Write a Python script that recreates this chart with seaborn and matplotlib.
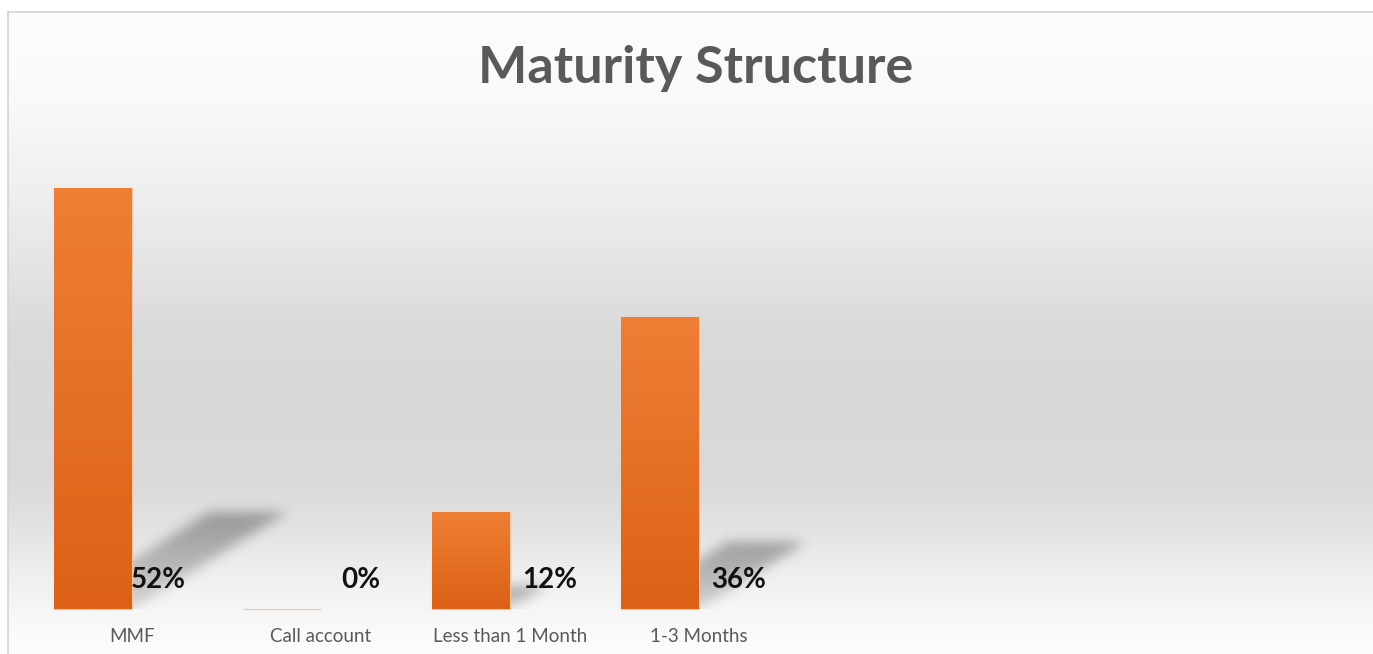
import numpy as np
import matplotlib
matplotlib.use("Agg")
import matplotlib.pyplot as plt
import seaborn as sns
from matplotlib.path import Path

# Chart data
categories = ["MMF", "Call account", "Less than 1 Month", "1-3 Months"]
shares = [52, 0, 12, 36]
value_labels = ["52%", "0%", "12%", "36%"]
title = "Maturity Structure"

sns.set_theme(style="white")
plt.rcParams["font.family"] = ["Lato", "DejaVu Sans"]

W, H = 1373, 654
fig = plt.figure(figsize=(W / 100, H / 100), dpi=100)
fig.patch.set_facecolor("white")

# ---- chart panel background: vertical grey gradient ----
panel_left, panel_top = 8, 12
bg = fig.add_axes([panel_left / W, 0, (W - panel_left) / W, (H - panel_top) / H])
stops_y = np.array([12, 100, 200, 280, 330, 400, 480, 520, 570, 620, 654])
stops_v = np.array([253, 249, 238, 226, 218, 216, 218, 225, 238, 248, 253]) / 255
rows = np.arange(panel_top, H)
prof = np.interp(rows, stops_y, stops_v)
grad = np.repeat(prof[:, None], 2, axis=1)
bg.imshow(np.dstack([grad, grad, grad]), aspect="auto", extent=[0, 1, 0, 1],
          interpolation="bilinear")
bg.set_xlim(0, 1)
bg.set_ylim(0, 1)
bg.set_xticks([])
bg.set_yticks([])
for side in ["right", "bottom"]:
    bg.spines[side].set_visible(False)
for side in ["top", "left"]:
    bg.spines[side].set_color("#d4d4d4")
    bg.spines[side].set_linewidth(1.2)

# ---- main plotting axes ----
base_px = 609
px_per_unit = 8.1
slot_px = 189
first_center_px = 93
ax_left_px = panel_left
ax = fig.add_axes([ax_left_px / W, (H - base_px) / H,
                   (W - ax_left_px) / W, (base_px - panel_top) / H])
ax.set_facecolor("none")

bar_top = "#ee7f35"
bar_bottom = "#dc6116"
bar_w = 78 / slot_px
sns.barplot(x=categories, y=shares, ax=ax, color=bar_top, saturation=1,
            width=bar_w, edgecolor="#f6cba8", linewidth=0.9, zorder=3)
for patch in ax.patches:
    patch.set_clip_on(False)

xlim = ((ax_left_px - first_center_px) / slot_px, (W - first_center_px) / slot_px)
ylim = (0, (base_px - panel_top) / px_per_unit)
ax.set_xlim(*xlim)
ax.set_ylim(*ylim)

# ---- blurred perspective shadows behind the bars ----
nx, ny = W - ax_left_px, base_px - panel_top
gx = np.linspace(xlim[0], xlim[1], nx)
gy = np.linspace(ylim[1], ylim[0], ny)
XX, YY = np.meshgrid(gx, gy)
pts = np.column_stack([XX.ravel(), YY.ravel()])
mask = np.zeros(XX.size)
for i, v in enumerate(shares):
    if v <= 0:
        continue
    h = 0.23 * v
    dx = 0.0158 * v
    x0, x1 = i - bar_w / 2, i + bar_w / 2
    poly = Path([(x0, 0), (x1, 0), (x1 + dx, h), (x0 + dx, h), (x0, 0)])
    inside = poly.contains_points(pts).astype(float)
    # darker toward the far end of the shadow
    fade = np.clip(0.4 + 0.6 * (pts[:, 1] / h), 0, 1)
    mask = np.maximum(mask, inside * fade)
mask = mask.reshape(XX.shape)


def blur(a, sigma):
    r = int(3 * sigma)
    k = np.exp(-0.5 * (np.arange(-r, r + 1) / sigma) ** 2)
    k /= k.sum()
    a = np.apply_along_axis(lambda m: np.convolve(m, k, mode="same"), 0, a)
    a = np.apply_along_axis(lambda m: np.convolve(m, k, mode="same"), 1, a)
    return a


mask = blur(mask, 6)
shadow = np.zeros((ny, nx, 4))
shadow[..., :3] = 0.25
shadow[..., 3] = mask * 0.45
ax.imshow(shadow, extent=[xlim[0], xlim[1], ylim[0], ylim[1]], aspect="auto",
          zorder=1, interpolation="bilinear")
ax.set_xlim(*xlim)
ax.set_ylim(*ylim)

# ---- vertical gradient fill of each bar ----
cgrad = np.linspace(0, 1, 256)[:, None]
top_rgb = np.array(matplotlib.colors.to_rgb(bar_top))
bot_rgb = np.array(matplotlib.colors.to_rgb(bar_bottom))
bar_img = (top_rgb[None, None, :] * (1 - cgrad[..., None]) +
           bot_rgb[None, None, :] * cgrad[..., None])
for patch in ax.patches:
    hgt = patch.get_height()
    if hgt <= 0:
        continue
    x = patch.get_x()
    im = ax.imshow(bar_img, extent=[x, x + patch.get_width(), 0, hgt],
                   aspect="auto", zorder=3.5, interpolation="bilinear")
    im.set_clip_path(patch)
ax.set_xlim(*xlim)
ax.set_ylim(*ylim)

# ---- value labels to the right of each bar ----
label_y = (base_px - 580) / px_per_unit
for i, (v, lab) in enumerate(zip(shares, value_labels)):
    off = 0.345 if i == 0 else 0.415
    ax.text(i + off, label_y, lab, ha="center", va="center", fontsize=20,
            fontweight="bold", color="#111111", zorder=5)

# ---- axes styling: category labels sit at the centre of each category slot ----
ax.set_yticks([])
ax.set_xticks(np.arange(len(categories)) + bar_w / 2)
ax.set_xticklabels(categories)
ax.set_xlabel("")
ax.set_ylabel("")
ax.tick_params(axis="x", length=0, pad=14, labelsize=13.5, labelcolor="#595959")
for s in ax.spines.values():
    s.set_visible(False)

fig.text(696 / W, 1 - 68 / H, title, ha="center", va="center",
         fontsize=37.5, fontweight="bold", color="#595959")

fig.savefig("out.png", dpi=100, facecolor="white")
